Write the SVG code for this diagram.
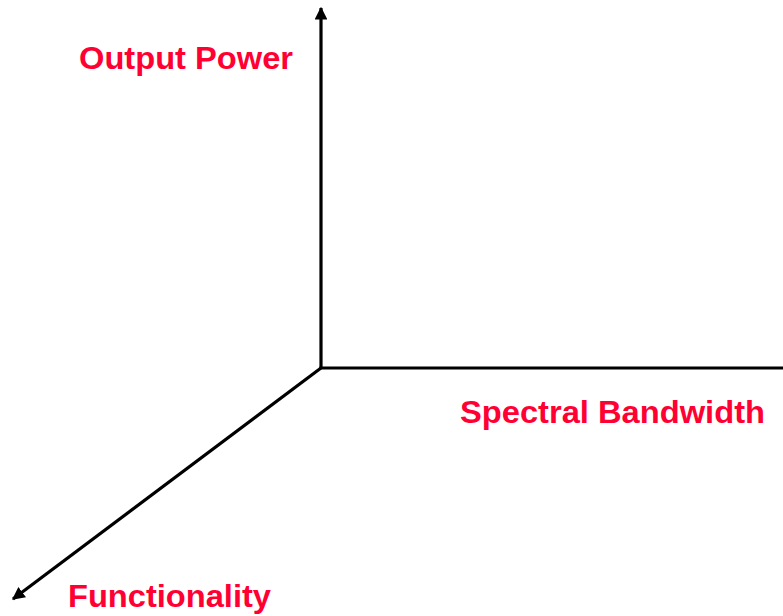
<svg xmlns="http://www.w3.org/2000/svg" width="783" height="616" viewBox="0 0 783 616">
<style>
.axis{stroke:#000;stroke-width:3.2;fill:none;marker-end:url(#ah)}
.lbl{font-family:"Liberation Sans",Arial,sans-serif;font-weight:bold;font-size:31px;fill:#ff0033}
</style>
<defs>
<marker id="ah" viewBox="0 0 10 10" refX="9" refY="5" markerWidth="4" markerHeight="4" orient="auto" markerUnits="strokeWidth">
<path d="M0,0 L10,5 L0,10 Z" fill="#000"/>
</marker>
</defs>
<rect width="783" height="616" fill="#fff"/>
<g id="connectors">
<path class="axis" d="M321,368 L321,8"/>
<path class="axis" d="M319.5,368 L795,368"/>
<path class="axis" d="M321,368 L13,599"/>
</g>
<g id="output-power"><text class="lbl" x="79" y="69" textLength="214" lengthAdjust="spacingAndGlyphs">Output Power</text></g>
<g id="spectral-bandwidth"><text class="lbl" x="460" y="423" textLength="305" lengthAdjust="spacingAndGlyphs">Spectral Bandwidth</text></g>
<g id="functionality"><text class="lbl" x="68" y="607" textLength="203" lengthAdjust="spacingAndGlyphs">Functionality</text></g>
</svg>
